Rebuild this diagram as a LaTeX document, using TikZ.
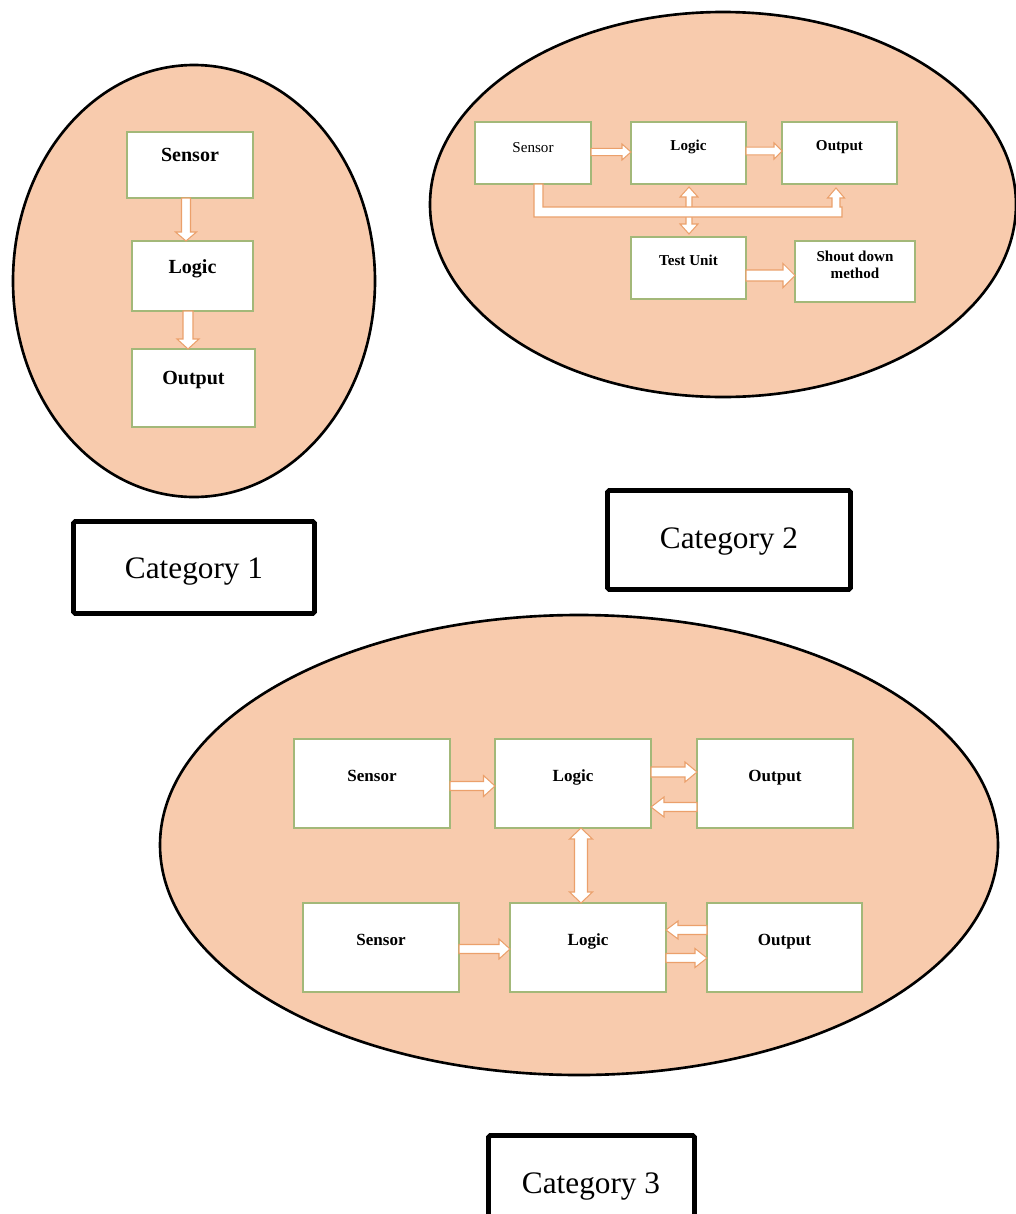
\documentclass[tikz,border=0pt]{standalone}
\usepackage{fontspec}
\setmainfont{Liberation Serif}
\usetikzlibrary{calc,fit}

\definecolor{zonefill}{HTML}{F8CBAD}
\definecolor{boxline}{HTML}{A3B879}
\definecolor{arrowline}{HTML}{EBA06B}

% block arrow: from, to, half shaft width, half head width, head length (all in px)
\newcommand\flowarrow[5]{%
  \pgfmathsetlengthmacro\arS{#3*0.02cm}%
  \pgfmathsetlengthmacro\arH{#4*0.02cm}%
  \pgfmathsetlengthmacro\arL{#5*0.02cm}%
  \coordinate (arA) at #1;
  \coordinate (arB) at #2;
  \coordinate (arK) at ($(arB)!\arL!(arA)$);
  \filldraw[blockarrow] ($(arA)!\arS!90:(arB)$) -- ($(arK)!\arS!90:(arB)$)
    -- ($(arK)!\arH!90:(arB)$) -- (arB) -- ($(arK)!\arH!-90:(arB)$)
    -- ($(arK)!\arS!-90:(arB)$) -- ($(arA)!\arS!-90:(arB)$) -- cycle;
}
% double-headed block arrow, same arguments
\newcommand\twoarrow[5]{%
  \pgfmathsetlengthmacro\arS{#3*0.02cm}%
  \pgfmathsetlengthmacro\arH{#4*0.02cm}%
  \pgfmathsetlengthmacro\arL{#5*0.02cm}%
  \coordinate (arA) at #1;
  \coordinate (arB) at #2;
  \coordinate (arJ) at ($(arA)!\arL!(arB)$);
  \coordinate (arK) at ($(arB)!\arL!(arA)$);
  \filldraw[blockarrow] (arA) -- ($(arJ)!\arH!90:(arB)$) -- ($(arJ)!\arS!90:(arB)$)
    -- ($(arK)!\arS!90:(arB)$) -- ($(arK)!\arH!90:(arB)$) -- (arB)
    -- ($(arK)!\arH!-90:(arB)$) -- ($(arK)!\arS!-90:(arB)$)
    -- ($(arJ)!\arS!-90:(arB)$) -- ($(arJ)!\arH!-90:(arB)$) -- cycle;
}

\tikzset{
  zone/.style={draw=black, line width=1.5pt, fill=zonefill},
  box/.style={draw=boxline, fill=white, line width=0.6pt, inner sep=0pt, outer sep=0pt},
  cap/.style 2 args={label={[anchor=center, yshift=-#1*0.02cm, align=center]north:#2}},
  every label/.style={inner sep=0pt, text height=0.7em, text depth=0.2em},
  blockarrow/.style={draw=arrowline, fill=white, line width=0.6pt, line join=miter},
  catframe/.style={draw=black, line width=2.8pt, fill=white, rounded corners=1pt,
    inner sep=0pt},
  cattext/.style={font=\fontsize{17.8}{20}\selectfont},
}

\begin{document}
\begin{tikzpicture}[x=0.02cm, y=-0.02cm]
\useasboundingbox (0,0) rectangle (1015,1214);
\fill[white] (0,0) rectangle (1015,1214);

% ---------- Category 1 ----------
\draw[zone] (194,281) ellipse [x radius=181, y radius=216];
\begin{scope}[every label/.append style={font=\fontsize{11.4}{13}\selectfont\bfseries}]
  \node[box, fit={(127,132) (253,198)}, cap={25}{Sensor}] (c1s) {};
  \node[box, fit={(132,241) (253,311)}, cap={28}{Logic}] (c1l) {};
  \node[box, fit={(132,349) (255,427)}, cap={31}{Output}] (c1o) {};
\end{scope}
\flowarrow{($(c1s.south)+(-4,0)$)}{($(c1l.north)+(-6.5,0)$)}{4.5}{10.5}{9}
\flowarrow{($(c1l.south)+(-4.5,0)$)}{($(c1o.north)+(-5.5,0)$)}{5}{11}{10}
\node[catframe, fit={(73.5,521.5) (314.5,613.5)}] (cat1) {};
\node[cattext] at ($(cat1.center)+(0,4)$) {Category 1};

% ---------- Category 2 ----------
\draw[zone] (723,204.5) ellipse [x radius=293, y radius=192.5];
\begin{scope}[every label/.append style={font=\fontsize{8.6}{9.7}\selectfont\bfseries}]
  \node[box, fit={(475,122) (591,184)},
        label={[anchor=center, yshift=-26*0.02cm, font=\fontsize{8.6}{9.7}\selectfont\mdseries]north:Sensor}] (c2s) {};
  \node[box, fit={(631,122) (746,184)}, cap={24}{Logic}] (c2l) {};
  \node[box, fit={(782,122) (897,184)}, cap={24}{Output}] (c2o) {};
  \node[box, fit={(631,237) (746,299)}, cap={24}{Test Unit}] (c2t) {};
  \node[box, fit={(795,241) (915,302)}, cap={33}{Shout down\\method}] (c2d) {};
\end{scope}
\flowarrow{($(c2s.east)+(0,-1)$)}{($(c2l.west)+(0,-1)$)}{3.7}{8}{9}
\flowarrow{($(c2l.east)+(0,-2)$)}{($(c2o.west)+(0,-2)$)}{3.8}{8}{8}
\twoarrow{($(c2l.south)+(0.5,3)$)}{($(c2t.north)+(0.5,-3)$)}{3}{9}{10}
% shared line from the sensor to the output
\coordinate (busA) at ($(c2s.south)+(1,0)$);
\coordinate (busT) at ($(c2o.south)+(-3.5,4)$);
\filldraw[blockarrow] (busA) -- ++(0,33) -- ($(busT)+(6,29)$) -- ($(busT)+(6,19)$)
  -- ($(busT)+(4,19)$) -- ($(busT)+(4,10)$) -- ($(busT)+(8.5,10)$) -- (busT)
  -- ($(busT)+(-8.5,10)$) -- ($(busT)+(-4,10)$) -- ($(busT)+(-4,19)$)
  -- ($(busA)+(9,23)$) -- ($(busA)+(9,0)$) -- cycle;
\flowarrow{($(c2t.east)+(0,7.5)$)}{($(c2d.west)+(0,4)$)}{5.5}{12}{12}
\node[catframe, fit={(607.5,490.5) (850.5,589.5)}] (cat2) {};
\node[cattext] at ($(cat2.center)+(0,2)$) {Category 2};

% ---------- Category 3 ----------
\draw[zone] (579,845) ellipse [x radius=419, y radius=230];
\begin{scope}[every label/.append style={font=\fontsize{9.7}{11}\selectfont\bfseries}]
  \node[box, fit={(294,739) (450,828)}, cap={38}{Sensor}] (c3s1) {};
  \node[box, fit={(495,739) (651,828)}, cap={38}{Logic}] (c3l1) {};
  \node[box, fit={(697,739) (853,828)}, cap={38}{Output}] (c3o1) {};
  \node[box, fit={(303,903) (459,992)}, cap={38}{Sensor}] (c3s2) {};
  \node[box, fit={(510,903) (666,992)}, cap={38}{Logic}] (c3l2) {};
  \node[box, fit={(707,903) (862,992)}, cap={38}{Output}] (c3o2) {};
\end{scope}
\flowarrow{($(c3s1.east)+(0,2.5)$)}{($(c3l1.west)+(0,2.5)$)}{4.5}{10.5}{11.5}
\flowarrow{($(c3l1.east)+(0,-11.5)$)}{($(c3o1.west)+(0,-11.5)$)}{5}{10}{12}
\flowarrow{($(c3o1.west)+(0,23.5)$)}{($(c3l1.east)+(0,23.5)$)}{4.5}{10}{13}
\twoarrow{($(c3l1.south)+(8,0)$)}{($(c3l2.north)+(-7,0)$)}{6.5}{11.5}{11}
\flowarrow{($(c3s2.east)+(0,1.5)$)}{($(c3l2.west)+(0,1.5)$)}{4.5}{10}{11}
\flowarrow{($(c3o2.west)+(0,-17.5)$)}{($(c3l2.east)+(0,-17.5)$)}{4.5}{9}{12}
\flowarrow{($(c3l2.east)+(0,10.5)$)}{($(c3o2.west)+(0,10.5)$)}{4.5}{9.5}{12}
\node[catframe, fit={(488.5,1135.5) (694.5,1232)}] (cat3) {};
\node[cattext] at (591,1187) {Category 3};
\end{tikzpicture}
\end{document}
